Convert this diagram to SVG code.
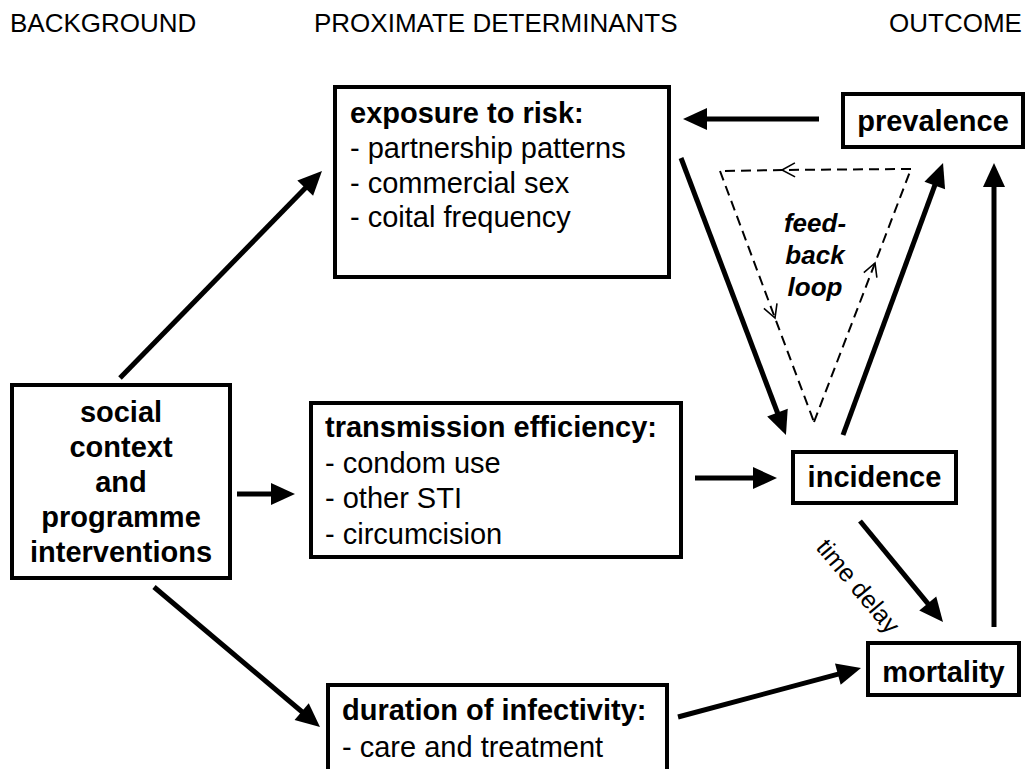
<svg xmlns="http://www.w3.org/2000/svg" width="1025" height="769" viewBox="0 0 1025 769">
<style>
text{font-family:"Liberation Sans",Arial,sans-serif;fill:#000}
.hdr{font-size:26px}
.t{font-size:29px}
.b{font-size:29px;font-weight:bold}
.box{fill:#fff;stroke:#000;stroke-width:4}
.arr{stroke:#000;stroke-width:5;fill:none;marker-end:url(#ah)}
.dash{stroke:#000;stroke-width:2;fill:none;stroke-dasharray:10 6;marker-mid:url(#chev)}
.fb{font-size:26px;font-weight:bold;font-style:italic}
.td{font-size:25px}
</style>
<defs>
<marker id="ah" markerUnits="userSpaceOnUse" markerWidth="26" markerHeight="24" refX="10" refY="11" orient="auto" overflow="visible">
<path d="M0,0 L24,11 L0,22 z" fill="#000"/>
</marker>
<marker id="chev" markerUnits="userSpaceOnUse" markerWidth="16" markerHeight="16" refX="0" refY="0" orient="auto" overflow="visible">
<path d="M-13,-7 L0,0 L-13,7" fill="none" stroke="#000" stroke-width="1.6" stroke-dasharray="none"/>
</marker>
</defs>
<rect width="1025" height="769" fill="#fff"/>
<g id="headers">
<text class="hdr" x="10" y="32">BACKGROUND</text>
<text class="hdr" x="314" y="32">PROXIMATE DETERMINANTS</text>
<text class="hdr" x="889" y="32">OUTCOME</text>
</g>
<g id="connectors">
<line class="arr" x1="819" y1="119" x2="697" y2="119"/>
<line class="arr" x1="681" y1="158" x2="781" y2="422"/>
<line class="arr" x1="843" y1="435" x2="938.2" y2="176.1"/>
<line class="arr" x1="994" y1="627" x2="994" y2="177"/>
<line class="arr" x1="695" y1="478" x2="763" y2="478"/>
<line class="arr" x1="860" y1="521" x2="934.1" y2="611.2"/>
<line class="arr" x1="678" y1="717" x2="847.5" y2="671.6"/>
<line class="arr" x1="154" y1="587" x2="309.3" y2="718"/>
<line class="arr" x1="120" y1="378" x2="312.2" y2="181"/>
<line class="arr" x1="237" y1="494" x2="281" y2="494"/>
<path class="dash" d="M911,169 L782,170 L720,171"/>
<path class="dash" d="M720,171 L775,318 L814,422"/>
<path class="dash" d="M814,422 L875,263 L911,169"/>
<text class="fb" x="815" y="232" text-anchor="middle">feed-</text>
<text class="fb" x="815" y="264" text-anchor="middle">back</text>
<text class="fb" x="815" y="296" text-anchor="middle">loop</text>
<text class="td" transform="translate(815,548) rotate(50)">time delay</text>
</g>
<g id="exposure">
<rect class="box" x="335" y="87" width="334" height="190"/>
<text class="b" x="350" y="123">exposure to risk:</text>
<text class="t" x="350" y="158">- partnership patterns</text>
<text class="t" x="350" y="193">- commercial sex</text>
<text class="t" x="350" y="227">- coital frequency</text>
</g>
<g id="prevalence">
<rect class="box" x="843" y="94" width="180" height="53"/>
<text class="b" x="933" y="131" text-anchor="middle">prevalence</text>
</g>
<g id="social">
<rect class="box" x="12" y="385" width="218" height="193"/>
<text class="b" x="121" y="422" text-anchor="middle">social</text>
<text class="b" x="121" y="457" text-anchor="middle">context</text>
<text class="b" x="121" y="492" text-anchor="middle">and</text>
<text class="b" x="121" y="527" text-anchor="middle">programme</text>
<text class="b" x="121" y="562" text-anchor="middle">interventions</text>
</g>
<g id="transmission">
<rect class="box" x="311" y="403" width="370" height="154"/>
<text class="b" x="325" y="437">transmission efficiency:</text>
<text class="t" x="325" y="473">- condom use</text>
<text class="t" x="325" y="508">- other STI</text>
<text class="t" x="325" y="544">- circumcision</text>
</g>
<g id="incidence">
<rect class="box" x="793" y="452" width="163" height="51"/>
<text class="b" x="874.5" y="487" text-anchor="middle">incidence</text>
</g>
<g id="mortality">
<rect class="box" x="868" y="643" width="151" height="52"/>
<text class="b" x="943.5" y="682" text-anchor="middle">mortality</text>
</g>
<g id="duration">
<rect class="box" x="328" y="685" width="339" height="110"/>
<text class="b" x="342" y="720">duration of infectivity:</text>
<text class="t" x="342" y="757">- care and treatment</text>
</g>
</svg>
